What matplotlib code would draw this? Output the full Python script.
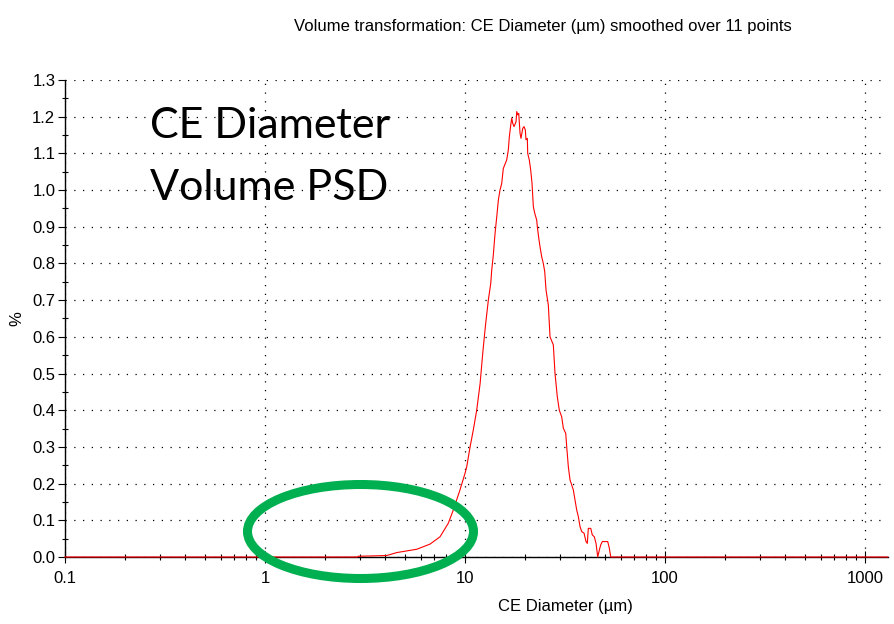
import matplotlib
matplotlib.use("Agg")
import matplotlib.pyplot as plt
from matplotlib.patches import Ellipse
from matplotlib.ticker import FixedLocator, LogLocator, NullFormatter, FuncFormatter

# CE diameter (um) and volume %
diam = [0.1, 2.9, 2.93, 3.5, 4.06, 4.56, 5.73, 6.68, 7.50, 8.25, 8.74, 9.44, 10.0, 10.2,
        10.6, 11.0, 11.44, 11.9, 12.1, 12.35, 12.69, 13.08, 13.45, 13.60, 13.85,
        14.13, 14.41, 14.68, 14.96, 15.26, 15.54, 16.16, 16.46, 16.66, 16.93,
        17.12, 17.32, 17.58, 17.99, 18.14, 18.35, 18.56, 18.84, 19.05, 19.43,
        19.72, 20.02, 20.18, 20.49, 20.58, 20.96, 21.30, 21.63, 21.96, 22.31,
        22.83, 22.99, 23.44, 23.71, 24.18, 24.63, 25.03, 25.41, 26.09, 26.61,
        27.64, 28.18, 28.93, 29.61, 30.44, 31.01, 31.88, 32.25, 32.85, 33.50,
        34.79, 35.48, 36.18, 36.86, 37.58, 38.33, 39.36, 40.27, 40.88, 41.35,
        42.51, 43.30, 44.31, 45.19, 46.08, 46.94, 47.70, 48.59, 51.70, 52.66,
        53.52, 1300]
vol = [0.0, 0.0, 0.002, 0.003, 0.004, 0.012, 0.021, 0.035, 0.055, 0.092, 0.128, 0.183, 0.228, 0.246,
       0.30, 0.346, 0.40, 0.473, 0.519, 0.573, 0.637, 0.70, 0.746, 0.782, 0.823,
       0.882, 0.927, 0.973, 1.0, 1.018, 1.059, 1.082, 1.109, 1.146, 1.177,
       1.196, 1.182, 1.173, 1.186, 1.214, 1.205, 1.209, 1.155, 1.141, 1.168,
       1.173, 1.164, 1.137, 1.141, 1.100, 1.082, 1.055, 1.018, 0.955, 0.937,
       0.918, 0.90, 0.864, 0.846, 0.818, 0.80, 0.778, 0.728, 0.687, 0.60,
       0.578, 0.50, 0.437, 0.40, 0.382, 0.351, 0.337, 0.30, 0.246, 0.21,
       0.183, 0.155, 0.128, 0.11, 0.083, 0.069, 0.065, 0.042, 0.037, 0.078,
       0.078, 0.06, 0.055, 0.037, 0.0, 0.019, 0.033, 0.042, 0.042, 0.024,
       0.0, 0.0]

yticks = [i / 10 for i in range(14)]
xticks = [0.1, 1, 10, 100, 1000]
xticklabels = ["0.1", "1", "10", "100", "1000"]

plt.rcParams['font.family'] = ['Liberation Sans', 'DejaVu Sans']

fig = plt.figure(figsize=(8.95, 6.24), dpi=100)
ax = fig.add_axes([0.0726, 0.1074, 0.9194, 0.7644])

ax.plot(diam, vol, color='red', lw=0.8, zorder=5, clip_on=False)

ax.set_xscale('log')
ax.set_xlim(0.1, 1300)
ax.set_ylim(0, 1.3)

ax.xaxis.set_major_locator(FixedLocator(xticks))
ax.xaxis.set_major_formatter(FuncFormatter(lambda v, p: xticklabels[xticks.index(v)] if v in xticks else ""))
ax.xaxis.set_minor_locator(LogLocator(base=10, subs=range(2, 10)))
ax.xaxis.set_minor_formatter(NullFormatter())
ax.set_yticks(yticks)
ax.set_yticklabels([f"{v:.1f}" for v in yticks])
ax.set_yticks([i / 20 for i in range(1, 26, 2)], minor=True)

ax.tick_params(axis='both', which='major', direction='out', length=5, width=0.8,
               labelsize=12, color='black')
ax.tick_params(axis='y', which='major', pad=2)
ax.tick_params(axis='x', which='major', direction='inout', length=8, pad=6)
ax.tick_params(axis='both', which='minor', direction='inout', length=5, width=0.8)

for s in ['top', 'right']:
    ax.spines[s].set_visible(False)
for s in ['left', 'bottom']:
    ax.spines[s].set_linewidth(1.0)

ax.grid(True, which='major', color='black', linestyle=(0, (1, 6)), lw=0.9)

fig.text(0.607, 0.958, "Volume transformation: CE Diameter (µm) smoothed over 11 points",
         ha='center', va='center', fontsize=12)
fig.text(0.632, 0.028, "CE Diameter (µm)", ha='center', va='center', fontsize=12)
fig.text(0.019, 0.49, "%", ha='center', va='center', rotation=90, fontsize=12)

# overlay in pixel space of the figure for the annotations
over = fig.add_axes([0, 0, 1, 1], facecolor='none')
over.set_xlim(0, 895)
over.set_ylim(624, 0)
over.axis('off')
over.text(150, 138, "CE Diameter", fontsize=31, family='Lato', va='baseline', ha='left')
over.text(150, 200, "Volume PSD", fontsize=31, family='Lato', va='baseline', ha='left')
over.add_patch(Ellipse((360.5, 531.5), 226, 94, fill=False, edgecolor='#00B050', lw=6.5))

fig.savefig("out.png", dpi=100)
